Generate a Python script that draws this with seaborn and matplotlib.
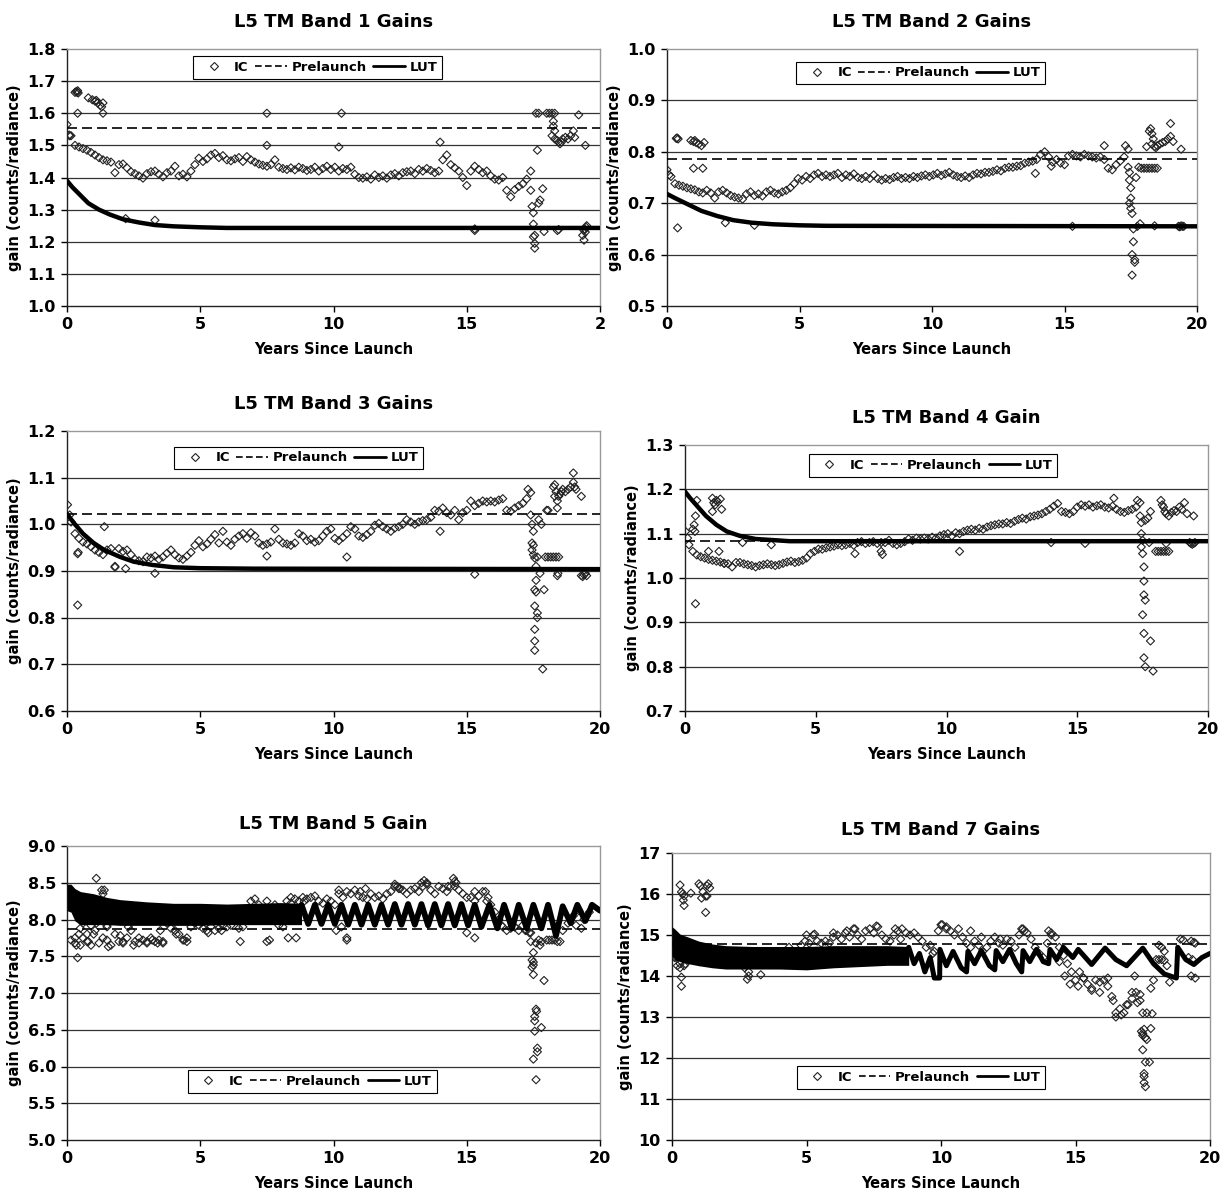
import numpy as np
import pandas as pd
import matplotlib
matplotlib.use("Agg")
import matplotlib.pyplot as plt
from matplotlib.lines import Line2D
import seaborn as sns

sns.set_theme(style="white")
plt.rcParams['font.family'] = ['DejaVu Sans']
plt.rcParams['font.weight'] = 'bold'
for key in ['text.color', 'axes.labelcolor', 'xtick.color', 'ytick.color']:
    plt.rcParams[key] = 'black'

# ---------------- data ----------------
YEARS = [0.15, 0.3, 0.45, 0.6, 0.75, 0.9, 1.05, 1.2, 1.35, 1.5,
         1.65, 1.8, 1.95, 2.1, 2.25, 2.4, 2.55, 2.7, 2.85, 3.0,
         3.15, 3.3, 3.45, 3.6, 3.75, 3.9, 4.05, 4.2, 4.35, 4.5,
         4.65, 4.8, 4.95, 5.1, 5.25, 5.4, 5.55, 5.7, 5.85, 6.0,
         6.15, 6.3, 6.45, 6.6, 6.75, 6.9, 7.05, 7.2, 7.35, 7.5,
         7.65, 7.8, 7.95, 8.1, 8.25, 8.4, 8.55, 8.7, 8.85, 9.0,
         9.15, 9.3, 9.45, 9.6, 9.75, 9.9, 10.05, 10.2, 10.35, 10.5,
         10.65, 10.8, 10.95, 11.1, 11.25, 11.4, 11.55, 11.7, 11.85, 12.0,
         12.15, 12.3, 12.45, 12.6, 12.75, 12.9, 13.05, 13.2, 13.35, 13.5,
         13.65, 13.8, 13.95, 14.1, 14.25, 14.4, 14.55, 14.7, 14.85, 15.0,
         15.15, 15.3, 15.45, 15.6, 15.75, 15.9, 16.05, 16.2, 16.35, 16.5,
         16.65, 16.8, 16.95, 17.1, 17.25, 17.4]

B1_IC = [1.530, 1.500, 1.495, 1.490, 1.485, 1.478, 1.470, 1.462, 1.455, 1.452,
         1.448, 1.415, 1.440, 1.442, 1.430, 1.418, 1.412, 1.405, 1.398, 1.412,
         1.418, 1.420, 1.410, 1.402, 1.415, 1.420, 1.435, 1.405, 1.410, 1.402,
         1.420, 1.440, 1.460, 1.450, 1.458, 1.470, 1.475, 1.462, 1.468, 1.455,
         1.452, 1.458, 1.462, 1.450, 1.465, 1.455, 1.448, 1.442, 1.438, 1.435,
         1.440, 1.455, 1.432, 1.428, 1.425, 1.430, 1.424, 1.432, 1.428, 1.422,
         1.425, 1.432, 1.420, 1.428, 1.435, 1.425, 1.432, 1.420, 1.428, 1.425,
         1.432, 1.410, 1.400, 1.398, 1.402, 1.395, 1.408, 1.400, 1.405, 1.398,
         1.408, 1.412, 1.405, 1.415, 1.418, 1.420, 1.412, 1.425, 1.420, 1.428,
         1.422, 1.415, 1.420, 1.455, 1.470, 1.440, 1.430, 1.420, 1.400, 1.375,
         1.420, 1.435, 1.425, 1.415, 1.420, 1.405, 1.395, 1.392, 1.400, 1.360,
         1.340, 1.362, 1.372, 1.380, 1.395, 1.420]
B1_EXTRA = [(0.0, 1.565), (0.08, 1.532), (0.1, 1.53), (0.3, 1.665), (0.35, 1.668), (0.38, 1.665),
            (0.4, 1.67), (0.42, 1.663), (0.4, 1.60), (0.8, 1.648), (0.95, 1.642), (1.05, 1.638),
            (1.1, 1.64), (1.15, 1.632), (1.25, 1.625), (1.3, 1.62), (1.35, 1.632), (1.35, 1.60),
            (2.2, 1.272), (3.3, 1.267), (7.5, 1.60), (7.5, 1.50), (10.3, 1.60), (10.2, 1.495),
            (14.0, 1.51), (15.3, 1.24), (15.3, 1.235),
            (17.4, 1.36), (17.45, 1.31), (17.5, 1.29), (17.5, 1.255), (17.55, 1.22), (17.5, 1.215),
            (17.55, 1.195), (17.55, 1.18), (17.7, 1.32), (17.75, 1.33), (17.85, 1.365), (17.9, 1.232),
            (17.65, 1.485),
            (17.6, 1.60), (17.7, 1.60), (18.0, 1.60), (18.1, 1.60), (18.2, 1.60), (18.3, 1.60),
            (18.25, 1.575), (18.25, 1.56), (18.3, 1.545), (18.2, 1.53), (18.3, 1.52), (18.4, 1.515),
            (18.45, 1.51), (18.5, 1.505), (18.55, 1.51), (18.6, 1.52), (18.7, 1.525), (18.8, 1.52),
            (18.9, 1.53), (19.0, 1.545), (19.05, 1.525), (19.2, 1.595), (19.45, 1.50),
            (18.4, 1.235), (18.45, 1.238), (19.35, 1.22), (19.4, 1.235), (19.42, 1.24), (19.45, 1.23),
            (19.48, 1.245), (19.5, 1.25), (19.4, 1.205)]
B1_PRELAUNCH = 1.555
B1_LUT_T = [0.0, 0.2, 0.5, 0.8, 1.2, 1.6, 2.1, 2.7, 3.3, 4.0, 5.0, 6.0, 20.0]
B1_LUT = [1.390, 1.370, 1.345, 1.320, 1.300, 1.285, 1.270, 1.260, 1.252, 1.248, 1.245, 1.243, 1.243]

B2_IC = [0.752, 0.738, 0.735, 0.733, 0.730, 0.728, 0.726, 0.722, 0.720, 0.725,
         0.720, 0.710, 0.722, 0.725, 0.720, 0.715, 0.712, 0.710, 0.708, 0.718,
         0.722, 0.715, 0.718, 0.714, 0.722, 0.725, 0.720, 0.718, 0.722, 0.725,
         0.730, 0.738, 0.748, 0.745, 0.752, 0.748, 0.755, 0.758, 0.752, 0.755,
         0.752, 0.755, 0.758, 0.750, 0.755, 0.752, 0.757, 0.750, 0.748, 0.752,
         0.748, 0.755, 0.748, 0.745, 0.748, 0.746, 0.750, 0.752, 0.748, 0.750,
         0.748, 0.752, 0.750, 0.753, 0.755, 0.752, 0.755, 0.758, 0.754, 0.757,
         0.760, 0.755, 0.752, 0.750, 0.753, 0.750, 0.755, 0.758, 0.757, 0.760,
         0.760, 0.762, 0.765, 0.763, 0.768, 0.770, 0.770, 0.772, 0.773, 0.778,
         0.780, 0.782, 0.785, 0.795, 0.800, 0.790, 0.780, 0.785, 0.778, 0.775,
         0.792, 0.795, 0.792, 0.790, 0.795, 0.792, 0.790, 0.788, 0.790, 0.785,
         0.768, 0.765, 0.775, 0.782, 0.790, 0.805]
B2_EXTRA = [(0.0, 0.765), (0.08, 0.755), (0.35, 0.826), (0.38, 0.827), (0.42, 0.825), (0.4, 0.652),
            (0.9, 0.822), (1.0, 0.82), (1.05, 0.822), (1.1, 0.818), (1.2, 0.815), (1.3, 0.812),
            (1.4, 0.818), (1.0, 0.768), (1.35, 0.768), (2.2, 0.662), (3.3, 0.657), (13.9, 0.758),
            (14.5, 0.772), (16.5, 0.812), (17.3, 0.812),
            (17.4, 0.77), (17.45, 0.76), (17.45, 0.745), (17.5, 0.73), (17.5, 0.71), (17.45, 0.70),
            (17.5, 0.69), (17.55, 0.68), (17.6, 0.65), (17.6, 0.625), (17.55, 0.60), (17.65, 0.59),
            (17.65, 0.585), (17.55, 0.56), (17.7, 0.75), (17.8, 0.77), (17.75, 0.655), (17.85, 0.66),
            (17.9, 0.768), (18.0, 0.768), (18.1, 0.768), (18.2, 0.768), (18.3, 0.768), (18.4, 0.768),
            (18.5, 0.768),
            (18.2, 0.84), (18.25, 0.845), (18.3, 0.835), (18.35, 0.825), (18.3, 0.815), (18.4, 0.81),
            (18.45, 0.808), (18.5, 0.812), (18.6, 0.815), (18.7, 0.818), (18.8, 0.82), (18.9, 0.825),
            (19.0, 0.855), (19.0, 0.83), (19.1, 0.82), (19.4, 0.805), (18.1, 0.81),
            (15.3, 0.655), (18.4, 0.656), (19.3, 0.655), (19.35, 0.654), (19.4, 0.656), (19.45, 0.655),
            (19.5, 0.655)]
B2_PRELAUNCH = 0.786
B2_LUT_T = [0.0, 0.3, 0.7, 1.3, 1.9, 2.5, 3.2, 4.0, 5.0, 6.0, 20.0]
B2_LUT = [0.718, 0.710, 0.700, 0.685, 0.675, 0.667, 0.662, 0.659, 0.657, 0.656, 0.655]

B3_IC = [1.005, 0.980, 0.970, 0.962, 0.958, 0.952, 0.945, 0.940, 0.935, 0.945,
         0.948, 0.910, 0.948, 0.942, 0.945, 0.935, 0.925, 0.922, 0.920, 0.930,
         0.928, 0.932, 0.925, 0.930, 0.938, 0.945, 0.935, 0.928, 0.925, 0.932,
         0.940, 0.955, 0.965, 0.952, 0.958, 0.968, 0.978, 0.960, 0.985, 0.962,
         0.955, 0.968, 0.975, 0.980, 0.970, 0.982, 0.975, 0.960, 0.955, 0.958,
         0.962, 0.990, 0.968, 0.960, 0.958, 0.955, 0.960, 0.980, 0.975, 0.965,
         0.968, 0.962, 0.965, 0.975, 0.985, 0.990, 0.970, 0.965, 0.972, 0.980,
         0.995, 0.990, 0.975, 0.972, 0.978, 0.985, 0.998, 1.002, 0.995, 0.990,
         0.985, 0.992, 0.995, 1.000, 1.010, 1.005, 1.000, 1.005, 1.008, 1.010,
         1.015, 1.030, 1.028, 1.035, 1.025, 1.020, 1.030, 1.010, 1.025, 1.030,
         1.050, 1.040, 1.045, 1.050, 1.048, 1.050, 1.048, 1.052, 1.055, 1.030,
         1.028, 1.035, 1.040, 1.045, 1.055, 1.068]
B3_EXTRA = [(0.02, 1.042), (0.1, 1.02), (0.4, 0.937), (0.42, 0.94), (0.4, 0.827), (1.4, 0.995),
            (1.8, 0.908), (2.2, 0.905), (3.3, 0.895), (7.5, 0.932), (10.5, 0.93), (14.0, 0.985),
            (17.3, 1.075),
            (17.4, 1.02), (17.45, 1.0), (17.5, 0.985), (17.45, 0.96), (17.5, 0.955), (17.45, 0.945),
            (17.5, 0.935), (17.55, 0.928), (17.6, 0.91), (17.6, 0.88), (17.55, 0.86), (17.6, 0.855),
            (17.55, 0.825), (17.65, 0.81), (17.65, 0.80), (17.55, 0.775), (17.55, 0.75), (17.55, 0.73),
            (17.85, 0.69), (17.7, 1.01), (17.8, 1.0), (17.65, 0.93), (17.75, 0.895), (17.9, 0.86),
            (18.0, 1.03), (18.05, 1.03),
            (17.95, 0.93), (18.05, 0.93), (18.15, 0.93), (18.25, 0.93), (18.35, 0.93), (18.45, 0.93),
            (18.25, 1.08), (18.3, 1.085), (18.35, 1.07), (18.3, 1.06), (18.4, 1.05), (18.45, 1.06),
            (18.5, 1.065), (18.55, 1.07), (18.6, 1.075), (18.7, 1.07), (18.8, 1.075), (18.9, 1.08),
            (19.0, 1.11), (19.0, 1.09), (19.05, 1.08), (19.1, 1.075), (19.3, 1.06), (18.4, 1.035),
            (15.3, 0.893), (18.4, 0.89), (18.42, 0.895), (19.3, 0.89), (19.35, 0.888), (19.4, 0.892),
            (19.45, 0.895), (19.5, 0.89)]
B3_PRELAUNCH = 1.022
B3_LUT_T = [0.0, 0.3, 0.6, 1.0, 1.4, 2.0, 2.5, 3.2, 4.0, 5.0, 7.0, 20.0]
B3_LUT = [1.022, 1.000, 0.980, 0.960, 0.945, 0.930, 0.920, 0.913, 0.908, 0.906, 0.905, 0.904]

B4_IC = [1.075, 1.060, 1.052, 1.048, 1.045, 1.042, 1.040, 1.038, 1.036, 1.033,
         1.032, 1.025, 1.035, 1.035, 1.032, 1.030, 1.028, 1.025, 1.028, 1.030,
         1.032, 1.030, 1.028, 1.030, 1.033, 1.036, 1.038, 1.035, 1.037, 1.040,
         1.045, 1.055, 1.060, 1.065, 1.065, 1.068, 1.070, 1.072, 1.075, 1.073,
         1.075, 1.078, 1.074, 1.080, 1.082, 1.078, 1.080, 1.082, 1.078, 1.080,
         1.080, 1.085, 1.078, 1.075, 1.078, 1.082, 1.088, 1.085, 1.090, 1.088,
         1.090, 1.088, 1.092, 1.090, 1.095, 1.098, 1.100, 1.095, 1.102, 1.100,
         1.105, 1.108, 1.110, 1.108, 1.112, 1.110, 1.115, 1.118, 1.120, 1.122,
         1.122, 1.125, 1.123, 1.128, 1.132, 1.135, 1.133, 1.138, 1.140, 1.142,
         1.145, 1.150, 1.155, 1.162, 1.168, 1.150, 1.148, 1.145, 1.150, 1.160,
         1.165, 1.162, 1.165, 1.160, 1.163, 1.165, 1.160, 1.158, 1.162, 1.155,
         1.150, 1.148, 1.152, 1.155, 1.160, 1.170]
B4_EXTRA = [(0.02, 1.105), (0.1, 1.09), (0.4, 0.942), (0.3, 1.11), (0.35, 1.12), (0.4, 1.14),
            (0.45, 1.175), (0.38, 1.105), (0.9, 1.06), (1.05, 1.18), (1.1, 1.17), (1.15, 1.165),
            (1.2, 1.175), (1.25, 1.172), (1.35, 1.178), (1.05, 1.15), (1.4, 1.155), (1.3, 1.06),
            (1.5, 1.033), (2.2, 1.08), (3.3, 1.075), (6.5, 1.055), (7.5, 1.06), (7.55, 1.053),
            (10.5, 1.06), (14.0, 1.08), (15.3, 1.078), (16.4, 1.18), (17.3, 1.175),
            (17.4, 1.14), (17.45, 1.125), (17.45, 1.10), (17.5, 1.085), (17.45, 1.07), (17.5, 1.055),
            (17.55, 1.025), (17.55, 0.993), (17.55, 0.962), (17.6, 0.95), (17.5, 0.917), (17.55, 0.875),
            (17.55, 0.82), (17.6, 0.80), (17.8, 0.858), (17.9, 0.79), (17.7, 1.135), (17.8, 1.15),
            (17.75, 1.08), (17.6, 1.13),
            (18.0, 1.06), (18.1, 1.06), (18.2, 1.06), (18.3, 1.06), (18.4, 1.06), (18.5, 1.06),
            (18.4, 1.078),
            (18.2, 1.175), (18.25, 1.165), (18.3, 1.16), (18.35, 1.15), (18.4, 1.145), (18.5, 1.14),
            (18.6, 1.148), (18.7, 1.152), (18.8, 1.15), (18.9, 1.16), (19.0, 1.155), (19.1, 1.17),
            (19.2, 1.145), (19.45, 1.14),
            (19.3, 1.08), (19.35, 1.078), (19.4, 1.076), (19.45, 1.078), (19.5, 1.08)]
B4_PRELAUNCH = 1.083
B4_LUT_T = [0.0, 0.2, 0.5, 0.8, 1.2, 1.6, 2.1, 2.7, 3.5, 4.0, 20.0]
B4_LUT = [1.195, 1.180, 1.160, 1.140, 1.120, 1.105, 1.095, 1.088, 1.085, 1.083, 1.083]

B5_IC = [7.72, 7.68, 7.80, 7.75, 7.70, 7.92, 7.85, 7.68, 7.75, 7.90,
         7.65, 7.80, 7.70, 7.68, 7.75, 7.85, 7.70, 7.68, 7.72, 7.70,
         7.75, 7.70, 7.72, 7.68, 7.95, 7.88, 7.85, 7.80, 7.72, 7.75,
         7.90, 7.95, 7.92, 7.88, 7.85, 7.90, 7.85, 7.88, 7.92, 7.90,
         7.92, 8.10, 7.88, 7.90, 8.15, 8.25, 8.28, 8.20, 8.10, 8.25,
         8.05, 8.20, 7.92, 7.90, 8.25, 8.22, 8.28, 8.25, 8.30, 8.28,
         8.30, 8.32, 8.25, 8.22, 8.28, 8.25, 8.20, 8.35, 8.30, 8.38,
         8.35, 8.40, 8.32, 8.30, 8.28, 8.35, 8.30, 8.32, 8.28, 8.35,
         8.38, 8.45, 8.42, 8.40, 8.35, 8.40, 8.42, 8.38, 8.45, 8.50,
         8.40, 8.35, 8.45, 8.42, 8.38, 8.45, 8.52, 8.40, 8.35, 8.30,
         8.30, 8.25, 8.32, 8.38, 8.25, 8.20, 8.10, 8.00, 7.90, 7.85,
         7.88, 7.90, 7.85, 7.92, 7.85, 7.82]
B5_EXTRA = [(0.3, 7.75), (0.35, 7.65), (0.4, 7.48), (0.5, 7.88), (0.5, 7.65), (0.6, 7.95), (0.75, 7.80),
            (0.8, 7.70), (0.9, 7.65), (1.0, 7.80), (1.1, 8.56), (1.3, 8.40), (1.4, 8.40), (1.35, 8.35),
            (1.1, 7.95), (1.5, 7.72), (1.55, 7.63), (1.5, 7.92), (2.0, 7.78), (2.1, 7.70), (2.3, 7.90),
            (2.5, 7.65), (2.7, 7.75), (3.0, 7.68), (3.2, 7.72), (3.4, 7.68), (3.5, 7.85), (3.6, 7.70),
            (4.1, 7.80), (4.4, 7.72), (4.5, 7.70), (5.3, 7.82), (5.8, 7.85), (6.5, 7.70), (7.5, 7.70),
            (7.6, 7.72), (8.3, 7.75), (8.6, 7.75), (8.4, 8.30), (8.9, 8.25), (10.2, 8.40), (10.1, 7.85),
            (10.3, 7.90), (10.5, 7.75), (10.5, 7.72), (11.0, 8.38), (11.2, 8.42), (12.3, 8.48),
            (12.4, 8.45), (12.5, 8.42), (13.3, 8.50), (13.4, 8.53), (13.5, 8.48), (14.3, 8.45),
            (14.5, 8.56), (14.6, 8.50), (14.55, 8.45), (15.0, 7.82), (15.3, 7.75), (15.3, 8.38),
            (15.7, 8.38), (15.8, 8.30), (16.3, 7.92), (16.8, 7.90),
            (17.2, 7.85), (17.35, 7.82), (17.4, 7.70), (17.5, 7.55), (17.45, 7.45), (17.5, 7.42),
            (17.5, 7.38), (17.45, 7.35), (17.5, 7.25), (17.6, 6.78), (17.62, 6.75), (17.55, 6.68),
            (17.55, 6.62), (17.55, 6.48), (17.65, 6.25), (17.65, 6.20), (17.5, 6.10), (17.6, 5.82),
            (17.8, 6.53), (17.9, 7.17), (17.6, 7.68), (17.7, 7.72), (17.8, 7.70), (17.75, 7.65),
            (18.0, 7.72), (18.1, 7.72), (18.2, 7.72), (18.3, 7.72), (18.4, 7.70), (18.5, 7.70),
            (18.6, 7.85), (18.8, 7.95), (19.0, 8.05), (19.1, 7.92), (19.3, 7.88), (19.4, 8.00),
            (19.5, 8.05), (19.6, 8.10), (19.2, 8.12)]
B5_PRELAUNCH = 7.87
B5_BAND_T = [0.0, 0.15, 0.3, 0.5, 1.0, 1.5, 2.0, 3.0, 4.0, 5.0, 6.0, 7.0, 8.0, 8.8]
B5_BAND_HI = [8.48, 8.48, 8.42, 8.38, 8.35, 8.30, 8.27, 8.24, 8.22, 8.22, 8.21, 8.22, 8.23, 8.22]
B5_BAND_LO = [8.12, 8.10, 7.98, 7.93, 7.93, 7.93, 7.92, 7.92, 7.92, 7.92, 7.93, 7.93, 7.93, 7.93]
B5_WAVE_T = [8.8, 9.05, 9.3, 9.55, 9.8, 10.05, 10.3, 10.55, 10.8, 11.05,
             11.3, 11.55, 11.8, 12.05, 12.3, 12.55, 12.8, 13.05, 13.3, 13.55,
             13.8, 14.05, 14.3, 14.55, 14.8, 15.05, 15.3, 15.55, 15.85, 16.15,
             16.4, 16.7, 16.95, 17.25, 17.5, 17.8, 18.05, 18.35, 18.6, 18.9,
             19.15, 19.45, 19.7, 20.0]
B5_WAVE = [8.20, 7.94, 8.20, 7.94, 8.20, 7.94, 8.20, 7.93, 8.20, 7.93,
           8.20, 7.93, 8.20, 7.93, 8.21, 7.93, 8.21, 7.93, 8.21, 7.92,
           8.21, 7.92, 8.21, 7.92, 8.21, 7.92, 8.20, 7.90, 8.20, 7.88,
           8.20, 7.88, 8.20, 7.88, 8.20, 7.88, 8.20, 7.78, 8.18, 7.95,
           8.20, 7.98, 8.20, 8.12]

B7_IC = [14.45, 14.30, 14.25, 14.50, 14.40, 14.45, 14.35, 14.50, 14.40, 14.45,
         14.45, 14.40, 14.35, 14.50, 14.45, 14.40, 14.35, 14.20, 14.00, 14.40,
         14.40, 14.45, 14.40, 14.45, 14.40, 14.45, 14.40, 14.45, 14.70, 14.45,
         14.50, 14.75, 14.85, 14.80, 15.00, 14.85, 14.80, 14.85, 14.80, 14.95,
         15.00, 14.90, 15.05, 14.95, 15.15, 15.00, 14.90, 15.10, 15.15, 15.05,
         15.20, 15.00, 14.90, 14.85, 15.00, 15.10, 15.15, 15.05, 15.00, 15.05,
         14.95, 14.85, 14.70, 14.75, 14.60, 15.10, 15.25, 15.20, 15.10, 15.00,
         15.15, 14.95, 14.80, 14.70, 14.85, 14.75, 14.60, 14.70, 14.85, 14.95,
         14.80, 14.75, 14.90, 14.85, 14.70, 15.00, 15.15, 15.05, 14.90, 14.70,
         14.55, 14.45, 14.80, 15.05, 14.95, 14.70, 14.50, 14.30, 14.10, 13.90,
         14.10, 13.95, 13.80, 13.65, 13.90, 13.85, 13.90, 13.75, 13.50, 13.10,
         13.20, 13.10, 13.30, 13.45, 13.60, 13.55]
B7_EXTRA = [(0.05, 14.55), (0.1, 14.45), (0.2, 14.25), (0.3, 14.20), (0.35, 13.97), (0.35, 13.75),
            (0.3, 16.22), (0.35, 16.05), (0.4, 16.00), (0.45, 15.95), (0.42, 15.85), (0.45, 15.72),
            (0.7, 16.02), (1.0, 16.25), (1.05, 16.20), (1.1, 15.90), (1.15, 16.05), (1.25, 15.95),
            (1.3, 16.20), (1.35, 16.25), (1.4, 16.15), (1.3, 15.95), (1.25, 15.55), (0.5, 14.30),
            (0.6, 14.40), (2.8, 13.92), (2.85, 14.10), (3.3, 14.03), (5.0, 15.00), (5.3, 15.02),
            (6.0, 15.05), (6.5, 15.10), (6.8, 15.15), (7.6, 15.22), (8.3, 15.15), (8.5, 14.90),
            (9.7, 14.55), (10.0, 15.25), (10.2, 15.15), (11.1, 15.10), (11.5, 14.95), (12.2, 14.90),
            (13.0, 15.15), (13.1, 15.10), (14.0, 15.10), (14.1, 15.00), (14.4, 14.35), (14.6, 14.00),
            (14.8, 13.80), (15.1, 13.75), (15.3, 13.95), (15.6, 13.70), (15.9, 13.60), (16.2, 13.95),
            (16.4, 13.40), (16.5, 13.00), (16.7, 13.05), (16.9, 13.30), (17.1, 13.60), (17.2, 14.00),
            (17.3, 13.35), (17.4, 13.40),
            (17.45, 12.65), (17.5, 12.60), (17.5, 12.55), (17.55, 12.70), (17.6, 12.50), (17.65, 12.45),
            (17.5, 12.20), (17.6, 11.90), (17.55, 11.62), (17.55, 11.55), (17.55, 11.40), (17.6, 11.30),
            (17.75, 11.90), (17.8, 12.72), (17.85, 13.08), (17.5, 13.10), (17.65, 13.10), (17.8, 13.70),
            (17.9, 13.90),
            (18.0, 14.40), (18.1, 14.40), (18.2, 14.40), (18.3, 14.38), (18.4, 14.25), (18.5, 13.85),
            (18.1, 14.75), (18.2, 14.70), (18.3, 14.60), (18.9, 14.90), (19.0, 14.88), (19.2, 14.45),
            (19.3, 14.85), (19.4, 14.82), (19.45, 14.80), (19.3, 14.00), (19.45, 13.95), (19.35, 14.40)]
B7_PRELAUNCH = 14.77
B7_BAND_T = [0.0, 0.1, 0.3, 0.6, 1.0, 1.5, 2.0, 3.0, 4.0, 5.0, 6.0, 7.0, 8.0, 8.8]
B7_BAND_HI = [15.20, 15.15, 15.02, 14.95, 14.85, 14.78, 14.74, 14.72, 14.72, 14.72, 14.74, 14.74, 14.74, 14.72]
B7_BAND_LO = [14.50, 14.40, 14.35, 14.30, 14.25, 14.20, 14.17, 14.17, 14.17, 14.15, 14.20, 14.23, 14.26, 14.26]
B7_WAVE_T = [8.8, 9.0, 9.2, 9.4, 9.6, 9.75, 9.95, 9.96, 10.2, 10.45,
             10.75, 10.95, 11.0, 11.25, 11.5, 11.8, 12.0, 12.05, 12.3, 12.55,
             12.8, 13.0, 13.05, 13.3, 13.55, 13.8, 14.0, 14.05, 14.3, 14.55,
             14.9, 15.1, 15.6, 16.1, 16.5, 16.9, 17.5, 17.9, 18.3, 18.75,
             18.8, 19.1, 19.4, 19.7, 20.0]
B7_WAVE = [14.70, 14.30, 14.55, 14.10, 14.45, 13.95, 13.95, 14.65, 14.25, 14.60,
           14.20, 14.10, 14.60, 14.30, 14.62, 14.25, 14.15, 14.62, 14.35, 14.65,
           14.30, 14.10, 14.62, 14.35, 14.65, 14.35, 14.30, 14.65, 14.40, 14.70,
           14.45, 14.65, 14.28, 14.68, 14.40, 14.25, 14.68, 14.30, 14.05, 13.95,
           14.70, 14.40, 14.28, 14.45, 14.55]

TITLES = ["L5 TM Band 1 Gains", "L5 TM Band 2 Gains", "L5 TM Band 3 Gains",
          "L5 TM Band 4 Gain", "L5 TM Band 5 Gain", "L5 TM Band 7 Gains"]
X_TICKS = [0, 5, 10, 15, 20]
X_TICKLABELS_B1 = ["0", "5", "10", "15", "2"]
X_TICKLABELS = ["0", "5", "10", "15", "20"]
Y_TICKS = [
    [1.0, 1.1, 1.2, 1.3, 1.4, 1.5, 1.6, 1.7, 1.8],
    [0.5, 0.6, 0.7, 0.8, 0.9, 1.0],
    [0.6, 0.7, 0.8, 0.9, 1.0, 1.1, 1.2],
    [0.7, 0.8, 0.9, 1.0, 1.1, 1.2, 1.3],
    [5.0, 5.5, 6.0, 6.5, 7.0, 7.5, 8.0, 8.5, 9.0],
    [10, 11, 12, 13, 14, 15, 16, 17],
]
Y_FMT = ["{:.1f}", "{:.1f}", "{:.1f}", "{:.1f}", "{:.1f}", "{:.0f}"]

# ---------------- layout (pixel boxes: left, top, right, bottom) ----------------
W, H = 1225, 1195
BOXES = [(67, 49, 600, 306), (667, 49, 1197, 306),
         (67, 431, 600, 711), (685, 445, 1208, 711),
         (67, 846, 600, 1140), (672, 853, 1210, 1140)]
LEG_POS = [(0.47, 0.928), (0.479, 0.907), (0.435, 0.904),
           (0.474, 0.923), (0.46, 0.199), (0.463, 0.218)]
TITLE_PAD = [16, 16, 16, 16, 12, 13]

fig = plt.figure(figsize=(W / 100, H / 100), dpi=100)
fig.patch.set_facecolor("white")

IC_SETS = [(B1_IC, B1_EXTRA), (B2_IC, B2_EXTRA), (B3_IC, B3_EXTRA),
           (B4_IC, B4_EXTRA), (B5_IC, B5_EXTRA), (B7_IC, B7_EXTRA)]
PRELAUNCH = [B1_PRELAUNCH, B2_PRELAUNCH, B3_PRELAUNCH, B4_PRELAUNCH, B5_PRELAUNCH, B7_PRELAUNCH]

def ic_frame(main, extra):
    ex = pd.DataFrame(extra, columns=["years", "gain"])
    mn = pd.DataFrame({"years": YEARS, "gain": main})
    return pd.concat([mn, ex], ignore_index=True)

for i, (l, t, r, b) in enumerate(BOXES):
    ax = fig.add_axes([l / W, 1 - b / H, (r - l) / W, (b - t) / H])
    ax.set_facecolor("white")
    yt = Y_TICKS[i]
    ax.set_xlim(0, 20)
    ax.set_ylim(yt[0], yt[-1])

    for v in yt[1:-1]:
        ax.axhline(v, color="#333333", lw=0.9, zorder=0)

    df = ic_frame(*IC_SETS[i])
    sns.scatterplot(data=df, x="years", y="gain", ax=ax, marker="D", s=17,
                    facecolor="none", edgecolor="#222222", linewidth=0.8,
                    zorder=2, legend=False)

    ax.axhline(PRELAUNCH[i], color="black", lw=1.2, ls=(0, (6, 3)), zorder=3)

    if i == 0:
        sns.lineplot(x=B1_LUT_T, y=B1_LUT, ax=ax, color="black", lw=3.2, sort=False, estimator=None, zorder=4)
    elif i == 1:
        sns.lineplot(x=B2_LUT_T, y=B2_LUT, ax=ax, color="black", lw=3.2, sort=False, estimator=None, zorder=4)
    elif i == 2:
        sns.lineplot(x=B3_LUT_T, y=B3_LUT, ax=ax, color="black", lw=3.2, sort=False, estimator=None, zorder=4)
    elif i == 3:
        sns.lineplot(x=B4_LUT_T, y=B4_LUT, ax=ax, color="black", lw=3.2, sort=False, estimator=None, zorder=4)
    elif i == 4:
        ax.fill_between(B5_BAND_T, B5_BAND_LO, B5_BAND_HI, color="black", lw=0, zorder=4)
        sns.lineplot(x=B5_WAVE_T, y=B5_WAVE, ax=ax, color="black", lw=4.2, sort=False, estimator=None, zorder=4)
    else:
        ax.fill_between(B7_BAND_T, B7_BAND_LO, B7_BAND_HI, color="black", lw=0, zorder=4)
        sns.lineplot(x=B7_WAVE_T, y=B7_WAVE, ax=ax, color="black", lw=3.6, sort=False, estimator=None, zorder=4)

    ax.set_xticks(X_TICKS)
    ax.set_xticklabels(X_TICKLABELS_B1 if i == 0 else X_TICKLABELS)
    ax.set_yticks(yt)
    ax.set_yticklabels([Y_FMT[i].format(v) for v in yt])
    ax.tick_params(axis="both", which="major", direction="out", length=4, width=1,
                   color="black", labelsize=11.5, pad=4, left=True, bottom=True)
    for lab in ax.get_xticklabels() + ax.get_yticklabels():
        lab.set_fontweight("bold")
    for side in ["left", "bottom"]:
        ax.spines[side].set_color("#222222")
        ax.spines[side].set_linewidth(1.0)
    for side in ["top", "right"]:
        ax.spines[side].set_color("#9a9a9a")
        ax.spines[side].set_linewidth(1.0)
    ax.grid(False)

    ax.set_xlabel("Years Since Launch", fontsize=10.5, fontweight="bold", labelpad=7)
    ax.set_ylabel("gain (counts/radiance)", fontsize=10.5, fontweight="bold", labelpad=4)
    ax.set_title(TITLES[i], fontsize=13, fontweight="bold", pad=TITLE_PAD[i])

    handles = [Line2D([], [], ls="none", marker="D", mfc="none", mec="#222222", ms=4.2, mew=0.8),
               Line2D([], [], color="black", lw=1.2, ls=(0, (4, 2))),
               Line2D([], [], color="black", lw=2.0)]
    leg = ax.legend(handles, ["IC", "Prelaunch", "LUT"], ncol=3, loc="center",
                    bbox_to_anchor=LEG_POS[i], frameon=True, fancybox=False,
                    edgecolor="black", framealpha=1, prop={"weight": "bold", "size": 9.5},
                    handlelength=2.4, columnspacing=0.5, handletextpad=0.35,
                    borderpad=0.35)
    leg.get_frame().set_linewidth(0.8)
    leg.set_zorder(10)

fig.savefig("out.png", dpi=100, facecolor="white")
